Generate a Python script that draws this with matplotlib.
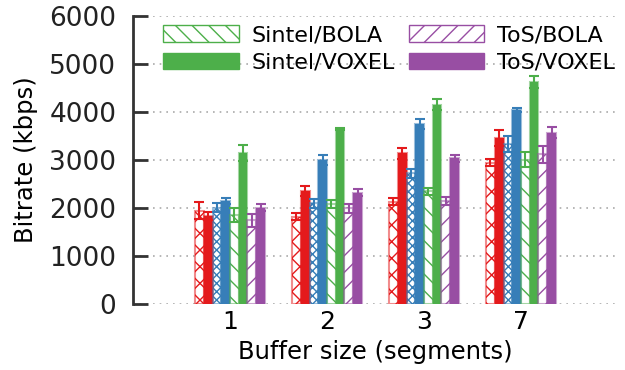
import numpy as np
import matplotlib
matplotlib.use('Agg')
import matplotlib.pyplot as plt
from matplotlib.patches import Patch

# values (kbps), buffer sizes 1, 2, 3, 7
buffer_sizes = ['1', '2', '3', '7']

red_bola = [1940, 1820, 2130, 2940]
red_bola_err = [175, 80, 75, 75]
red_voxel = [1835, 2360, 3140, 3455]
red_voxel_err = [90, 100, 110, 160]
blue_bola = [2010, 2100, 2720, 3330]
blue_bola_err = [100, 90, 100, 165]
blue_voxel = [2146, 3000, 3757, 4042]
blue_voxel_err = [70, 110, 105, 45]
sintel_bola = [1850, 2085, 2350, 3010]
sintel_bola_err = [140, 85, 70, 150]
sintel_voxel = [3146, 3646, 4153, 4625]
sintel_voxel_err = [170, 20, 110, 120]
tos_bola = [1740, 1990, 2150, 3115]
tos_bola_err = [145, 100, 80, 185]
tos_voxel = [2007, 2319, 3035, 3569]
tos_voxel_err = [80, 75, 75, 110]

RED = '#e41a1c'
BLUE = '#377eb8'
GREEN = '#4daf4a'
PURPLE = '#984ea3'

series = [
    (red_bola, red_bola_err, RED, 'xx'),
    (red_voxel, red_voxel_err, RED, None),
    (blue_bola, blue_bola_err, BLUE, 'xxxx'),
    (blue_voxel, blue_voxel_err, BLUE, None),
    (sintel_bola, sintel_bola_err, GREEN, '\\\\'),
    (sintel_voxel, sintel_voxel_err, GREEN, None),
    (tos_bola, tos_bola_err, PURPLE, '//'),
    (tos_voxel, tos_voxel_err, PURPLE, None),
]

plt.rcParams['font.family'] = 'DejaVu Sans'
plt.rcParams['hatch.linewidth'] = 1.0

fig = plt.figure(figsize=(6.25, 3.7), dpi=100)
ax = fig.add_axes([0.2128, 0.1784, 0.776, 0.7784])

x = np.arange(1, len(buffer_sizes) + 1)
width = 0.09
for i, (vals, errs, color, hatch) in enumerate(series):
    pos = x + (i - 3.5) * width
    if hatch:
        ax.bar(pos, vals, width, color='white', edgecolor=color, hatch=hatch,
               linewidth=0, zorder=2)
    else:
        ax.bar(pos, vals, width, color=color, edgecolor=color, linewidth=0, zorder=2)
    # light outline around every bar
    ax.bar(pos, vals, width, fill=False, edgecolor=color, alpha=0.5,
           linewidth=1.5, zorder=3)
    ax.errorbar(pos, vals, yerr=errs, fmt='none', ecolor=color, elinewidth=1.5,
                capsize=3.3, capthick=1.5, zorder=4)

ax.set_xlim(0, 5)
ax.set_ylim(0, 6000)
ax.set_yticks(np.arange(0, 6001, 1000))
ax.set_xticks(x)
ax.set_xticklabels(buffer_sizes)
ax.tick_params(axis='y', direction='in', length=10.5, width=2, color='#333333',
               labelsize=19, pad=12, labelcolor='#222222')
ax.tick_params(axis='x', length=0, labelsize=18, pad=4)
ax.grid(axis='y', color='#aaaaaa', linestyle=(0, (1, 3)), linewidth=1.2, zorder=0)
ax.set_axisbelow(True)
for side in ['top', 'right', 'bottom']:
    ax.spines[side].set_visible(False)
ax.spines['left'].set_linewidth(2)
ax.spines['left'].set_color('#333333')

ax.set_ylabel('Bitrate (kbps)', fontsize=17.5, labelpad=8)
ax.set_xlabel('Buffer size (segments)', fontsize=17.5, labelpad=5)

handles = [
    Patch(facecolor='white', edgecolor=GREEN, hatch='\\\\', linewidth=1, label='Sintel/BOLA'),
    Patch(facecolor=GREEN, edgecolor=GREEN, label='Sintel/VOXEL'),
    Patch(facecolor='white', edgecolor=PURPLE, hatch='//', linewidth=1, label='ToS/BOLA'),
    Patch(facecolor=PURPLE, edgecolor=PURPLE, label='ToS/VOXEL'),
]
ax.legend(handles=handles, ncol=2, loc='upper left', bbox_to_anchor=(0.062, 0.969),
          frameon=False, fontsize=16, handlelength=3.4, handleheight=0.78,
          handletextpad=0.6, columnspacing=0.6, labelspacing=0.35, borderaxespad=0,
          borderpad=0)

fig.savefig('out.png', dpi=100)
